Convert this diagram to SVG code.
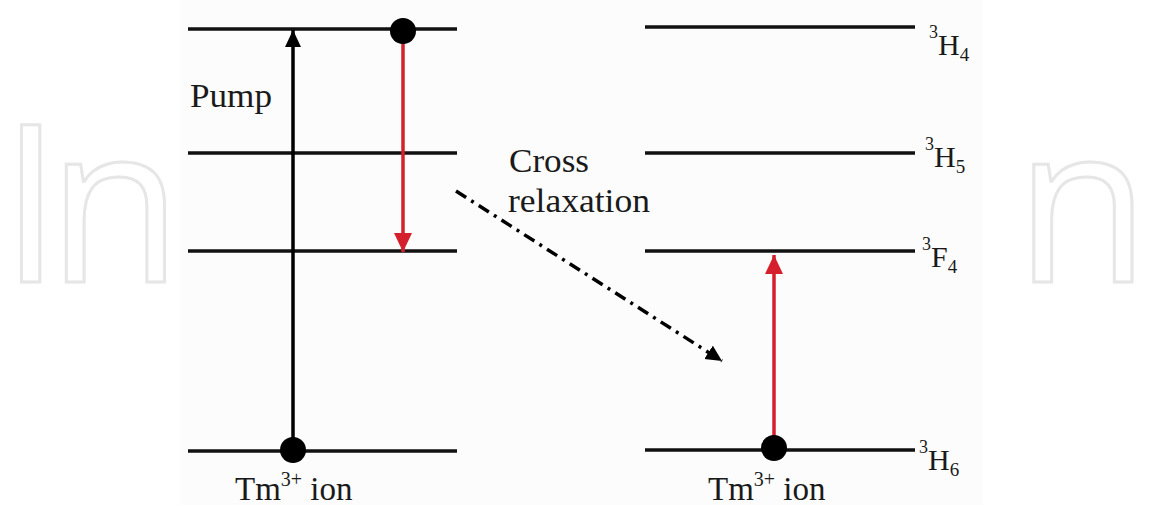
<svg xmlns="http://www.w3.org/2000/svg" width="1150" height="505" viewBox="0 0 1150 505">
<style>
.lvl{stroke:#111;stroke-width:3.5;fill:none}
.t{font-family:"Liberation Serif","Times New Roman",serif;fill:#1a1a1a}
.wm{font-family:"Open Sans","Liberation Sans",Arial,sans-serif;font-size:220px;fill:none;stroke:#e6e6e6;stroke-width:3;letter-spacing:-14px}
</style>
<defs>
<marker id="ab" markerUnits="userSpaceOnUse" markerWidth="20" markerHeight="20" refX="17" refY="8" orient="auto">
<path d="M0,0 L17,8 L0,16 Z" fill="#000"/>
</marker>
<marker id="ar" markerUnits="userSpaceOnUse" markerWidth="22" markerHeight="20" refX="19" refY="9" orient="auto">
<path d="M0,0 L19,9 L0,18 Z" fill="#d4202c"/>
</marker>
<marker id="ad" markerUnits="userSpaceOnUse" markerWidth="20" markerHeight="20" refX="16" refY="8" orient="auto">
<path d="M0,0 L16,8 L0,16 Z" fill="#000"/>
</marker>
</defs>
<rect width="1150" height="505" fill="#fff"/>
<g id="watermark">
<text class="wm" x="0" y="282">In</text>
<text class="wm" x="1015" y="282">n</text>
</g>
<rect x="180" y="0" width="803" height="505" fill="#fcfcfc"/>

<g id="left-levels">
<line class="lvl" x1="188" y1="29" x2="457" y2="29"/>
<line class="lvl" x1="188" y1="153" x2="457" y2="153"/>
<line class="lvl" x1="188" y1="251" x2="457" y2="251"/>
<line class="lvl" x1="188" y1="451" x2="457" y2="451"/>
</g>
<g id="right-levels">
<line class="lvl" x1="645" y1="27" x2="915" y2="27"/>
<line class="lvl" x1="645" y1="153" x2="915" y2="153"/>
<line class="lvl" x1="645" y1="251" x2="915" y2="251"/>
<line class="lvl" x1="645" y1="450" x2="915" y2="450"/>
</g>

<g id="connectors">
<line x1="293" y1="450" x2="293" y2="30" stroke="#000" stroke-width="3.5" marker-end="url(#ab)"/>
<line x1="403" y1="40" x2="403" y2="252" stroke="#d4202c" stroke-width="3.5" marker-end="url(#ar)"/>
<line x1="774" y1="445" x2="774" y2="255" stroke="#d4202c" stroke-width="3.5" marker-end="url(#ar)"/>
<line x1="456" y1="191" x2="722" y2="361" stroke="#000" stroke-width="3.5" stroke-dasharray="12 6 3 6" marker-end="url(#ad)"/>
</g>

<g id="electrons">
<circle cx="293" cy="450" r="13" fill="#000"/>
<circle cx="403" cy="31" r="13" fill="#000"/>
<circle cx="774" cy="448" r="13" fill="#000"/>
</g>

<g id="labels">
<text class="t" x="190" y="107" font-size="33" textLength="82" lengthAdjust="spacingAndGlyphs">Pump</text>
<text class="t" x="509" y="172" font-size="33" textLength="80" lengthAdjust="spacingAndGlyphs">Cross</text>
<text class="t" x="508" y="212" font-size="33" textLength="142" lengthAdjust="spacingAndGlyphs">relaxation</text>
<text class="t" x="235" y="500" font-size="33">Tm<tspan font-size="20" dy="-14">3+</tspan><tspan dy="14"> ion</tspan></text>
<text class="t" x="708" y="500" font-size="33">Tm<tspan font-size="20" dy="-14">3+</tspan><tspan dy="14"> ion</tspan></text>
<text class="t" x="929" y="55" font-size="30"><tspan font-size="18" dy="-17">3</tspan><tspan dy="17">H</tspan><tspan font-size="19" dy="6">4</tspan></text>
<text class="t" x="925" y="167" font-size="30"><tspan font-size="18" dy="-17">3</tspan><tspan dy="17">H</tspan><tspan font-size="19" dy="6">5</tspan></text>
<text class="t" x="922" y="267" font-size="30"><tspan font-size="18" dy="-17">3</tspan><tspan dy="17">F</tspan><tspan font-size="19" dy="6">4</tspan></text>
<text class="t" x="919" y="470" font-size="30"><tspan font-size="18" dy="-17">3</tspan><tspan dy="17">H</tspan><tspan font-size="19" dy="6">6</tspan></text>
</g>
</svg>
